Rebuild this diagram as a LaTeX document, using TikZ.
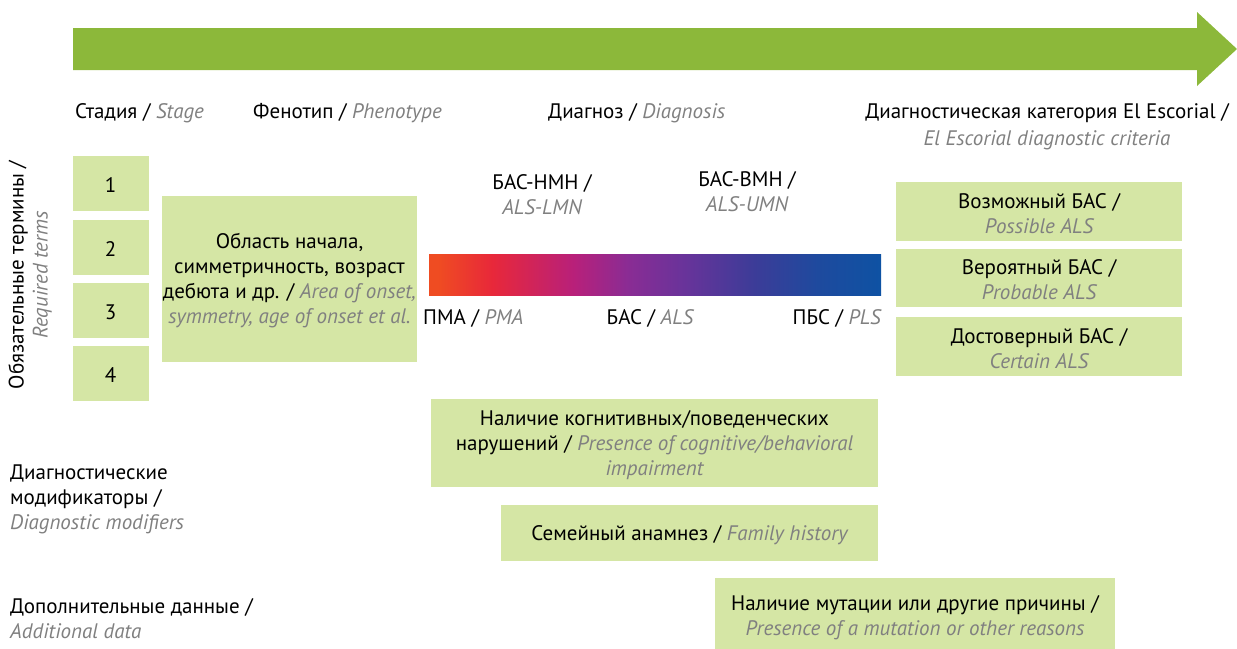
\documentclass[tikz,border=0pt]{standalone}
\usepackage{fontspec}
\setmainfont{PT Sans}
\definecolor{arrowgreen}{HTML}{8CB83A}
\definecolor{boxgreen}{HTML}{D5E6A5}
\definecolor{engrey}{HTML}{808080}
\definecolor{g0}{HTML}{EF4C22}
\definecolor{g1}{HTML}{E8283A}
\definecolor{g2}{HTML}{B8207A}
\definecolor{g3}{HTML}{8A2C94}
\definecolor{g4}{HTML}{6A339A}
\definecolor{g5}{HTML}{3C3C98}
\definecolor{g6}{HTML}{1E4A9E}
\definecolor{g7}{HTML}{0E52A3}
\pgfdeclarehorizontalshading{alsgrad}{100bp}{color(0bp)=(g0); color(26bp)=(g0); color(32bp)=(g1); color(41bp)=(g2); color(47bp)=(g3); color(53bp)=(g4); color(61bp)=(g5); color(68bp)=(g6); color(75bp)=(g7); color(100bp)=(g7)}
\newcommand\eng[1]{{\color{engrey}\itshape #1}}
\tikzset{
  txt/.style={inner sep=0pt, font=\fontsize{21}{25}\selectfont, align=center},
  gbox/.style={fill=boxgreen, draw=none, inner sep=0pt},
}
% name, x, y, width, height, text
\newcommand\greenbox[6]{%
  \node[gbox, minimum width=#4pt, minimum height=#5pt] (#1) at (#2,#3) {};
  \node[txt, yshift=-2pt] (#1-t) at (#1) {#6};}
\begin{document}
\begin{tikzpicture}[x=1pt,y=-1pt]
\useasboundingbox (0,0) rectangle (1237,648);
% big arrow
\fill[arrowgreen] (73,28) -- (1197,28) -- (1197,12) -- (1237,49) -- (1197,86) -- (1197,70) -- (73,70) -- cycle;
% headers
\node[txt, anchor=west] (hstage) at (75,113) {Стадия / \eng{Stage}};
\node[txt, anchor=west] (hpheno) at (253,113) {Фенотип / \eng{Phenotype}};
\node[txt, anchor=west] (hdiag) at (548,113) {Диагноз / \eng{Diagnosis}};
\node[txt, font=\fontsize{21}{27}\selectfont] (hcat) at (1047,127) {Диагностическая категория El Escorial /\\\eng{El Escorial diagnostic criteria}};
% rotated label
\node[txt, rotate=90, font=\fontsize{21}{24}\selectfont] (req) at (30,275) {Обязательные термины /\\\eng{Required terms}};
% stage boxes
\greenbox{s1}{110.5}{183.5}{76}{55}{1}
\greenbox{s2}{110.5}{247.5}{76}{55}{2}
\greenbox{s3}{110.5}{310.5}{76}{55}{3}
\greenbox{s4}{110.5}{373.5}{76}{55}{4}
% phenotype box
\greenbox{pheno}{289.5}{279}{255}{166}{Область начала,\\симметричность, возраст\\дебюта и др. / \eng{Area of onset,}\\\eng{symmetry, age of onset et al.}}
% gradient bar
\shade[shading=alsgrad] (429,254) rectangle (881,295);
\node[txt] (lmn) at (542,195) {БАС-НМН /\\\eng{ALS-LMN}};
\node[txt] (umn) at (747,192) {БАС-ВМН /\\\eng{ALS-UMN}};
\node[txt, anchor=west] (pma) at (423,318) {ПМА / \eng{PMA}};
\node[txt] (als) at (650,318) {БАС / \eng{ALS}};
\node[txt, anchor=east] (pls) at (881,318) {ПБС / \eng{PLS}};
% El Escorial boxes
\greenbox{possible}{1039}{211.5}{286}{59}{Возможный БАС /\\\eng{Possible ALS}}
\greenbox{probable}{1039}{278}{286}{58}{Вероятный БАС /\\\eng{Probable ALS}}
\greenbox{certain}{1039}{346.5}{286}{59}{Достоверный БАС /\\\eng{Certain ALS}}
% modifiers
\greenbox{cog}{654.5}{443}{447}{88}{Наличие когнитивных/поведенческих\\нарушений / \eng{Presence of cognitive/behavioral}\\\eng{impairment}}
\greenbox{fam}{689.5}{533}{377}{56}{Семейный анамнез / \eng{Family history}}
\greenbox{mut}{915}{616}{400}{76}{Наличие мутации или другие причины /\\\eng{Presence of a mutation or other reasons}}
% left labels
\node[txt, anchor=west, align=left] (lmod) at (10,499.5) {Диагностические\\модификаторы /\\\eng{Diagnostic modifiers}};
\node[txt, anchor=west, align=left] (ladd) at (10,618.5) {Дополнительные данные /\\\eng{Additional data}};
\end{tikzpicture}
\end{document}
